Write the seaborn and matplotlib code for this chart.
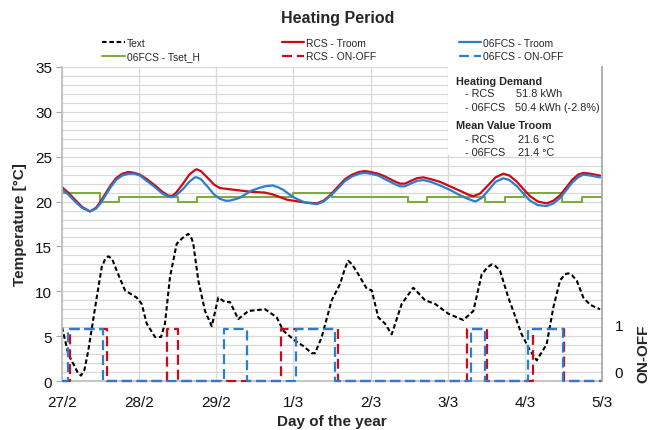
import numpy as np
import pandas as pd
import matplotlib
matplotlib.use("Agg")
import matplotlib.pyplot as plt
from matplotlib.ticker import MultipleLocator
from matplotlib.transforms import ScaledTranslation
from matplotlib.patches import Rectangle
import seaborn as sns

# ---------------- data ----------------
day_ticks = [0, 1, 2, 3, 4, 5, 6, 7]
day_labels = ["27/2", "28/2", "29/2", "1/3", "2/3", "3/3", "4/3", "5/3"]

text_t = [0.0, 0.082, 0.20, 0.246, 0.29, 0.341, 0.45, 0.515, 0.56, 0.60, 0.65, 0.709, 0.817,
          0.968, 1.033, 1.098, 1.206, 1.283, 1.335, 1.40, 1.487, 1.57, 1.637, 1.68, 1.702,
          1.767, 1.854, 1.941, 2.026, 2.113, 2.178, 2.285, 2.415, 2.632, 2.783, 2.869, 3.02,
          3.128, 3.237, 3.28, 3.367, 3.496, 3.604, 3.67, 3.711, 3.76, 3.841, 3.95, 4.015,
          4.10, 4.187, 4.274, 4.404, 4.554, 4.706, 4.835, 5.008, 5.202, 5.332, 5.441, 5.52,
          5.571, 5.62, 5.678, 5.786, 5.959, 6.067, 6.154, 6.283, 6.369, 6.456, 6.52, 6.563,
          6.61, 6.672, 6.758, 6.845, 6.974]
text_v = [6.0, 3.0, 1.0, 0.6, 1.2, 3.4, 9.3, 12.7, 13.6, 13.9, 13.6, 12.3, 10.1,
          9.3, 8.6, 6.4, 4.9, 4.9, 6.4, 11.6, 15.3, 16.0, 16.4, 15.9, 15.3,
          11.2, 7.8, 6.1, 9.3, 8.8, 8.8, 6.9, 7.8, 8.0, 7.1, 5.6, 4.5,
          3.9, 3.1, 3.1, 4.9, 9.0, 10.8, 12.6, 13.4, 13.0, 11.9, 10.3, 10.1,
          7.1, 6.4, 5.2, 8.6, 10.4, 9.0, 8.6, 7.5, 6.8, 7.8, 11.9, 12.7,
          13.0, 12.8, 12.3, 9.3, 5.2, 3.4, 2.3, 4.1, 8.2, 11.2, 11.9, 12.0,
          11.8, 11.2, 9.3, 8.5, 8.0]

rcs_t = [0.0, 0.08, 0.17, 0.26, 0.363, 0.44, 0.50, 0.557, 0.63, 0.70, 0.78, 0.86, 0.94,
         1.01, 1.10, 1.206, 1.30, 1.37, 1.422, 1.48, 1.569, 1.65, 1.72, 1.746, 1.80, 1.893,
         1.97, 2.048, 2.15, 2.243, 2.437, 2.632, 2.73, 2.826, 2.92, 2.995, 3.15, 3.302, 3.39,
         3.474, 3.57, 3.668, 3.76, 3.85, 3.928, 4.00, 4.10, 4.187, 4.30, 4.38, 4.446, 4.52,
         4.60, 4.684, 4.78, 4.90, 5.03, 5.16, 5.26, 5.332, 5.42, 5.522, 5.62, 5.721, 5.80,
         5.898, 5.98, 6.067, 6.17, 6.283, 6.37, 6.456, 6.54, 6.611, 6.69, 6.758, 6.85, 6.974]
rcs_troom = [21.6, 21.0, 20.2, 19.4, 18.9, 19.3, 20.0, 20.8, 21.8, 22.6, 23.1, 23.3, 23.2,
             23.0, 22.5, 21.8, 21.1, 20.7, 20.6, 21.0, 22.0, 23.0, 23.5, 23.6, 23.4, 22.6,
             21.9, 21.5, 21.4, 21.3, 21.1, 21.0, 20.8, 20.5, 20.2, 20.1, 19.9, 19.8, 20.1,
             20.7, 21.6, 22.5, 23.0, 23.3, 23.4, 23.3, 23.1, 22.8, 22.3, 22.0, 22.0, 22.3,
             22.6, 22.7, 22.5, 22.2, 21.7, 21.2, 20.8, 20.6, 20.9, 21.8, 22.7, 23.1, 22.9,
             22.2, 21.4, 20.6, 20.0, 19.8, 20.1, 20.7, 21.6, 22.4, 23.0, 23.2, 23.1, 22.9]

fcs_t = [0.0, 0.08, 0.17, 0.26, 0.363, 0.44, 0.50, 0.557, 0.63, 0.70, 0.78, 0.86, 0.94,
         1.01, 1.10, 1.206, 1.30, 1.37, 1.422, 1.48, 1.569, 1.65, 1.72, 1.746, 1.80, 1.893,
         1.97, 2.048, 2.12, 2.175, 2.30, 2.45, 2.55, 2.632, 2.73, 2.80, 2.87, 2.995, 3.07,
         3.15, 3.302, 3.39, 3.474, 3.57, 3.668, 3.76, 3.85, 3.928, 4.00, 4.10, 4.187, 4.30,
         4.38, 4.446, 4.52, 4.60, 4.684, 4.78, 4.90, 5.03, 5.16, 5.26, 5.36, 5.44, 5.522,
         5.62, 5.721, 5.80, 5.898, 5.98, 6.067, 6.17, 6.283, 6.37, 6.456, 6.54, 6.611, 6.69,
         6.758, 6.85, 6.974]
fcs_troom = [21.4, 20.8, 20.0, 19.3, 18.9, 19.2, 19.8, 20.6, 21.6, 22.4, 22.9, 23.1, 23.1,
             22.9, 22.3, 21.6, 20.9, 20.6, 20.5, 20.7, 21.4, 22.2, 22.7, 22.7, 22.5, 21.6,
             20.8, 20.3, 20.1, 20.1, 20.4, 21.2, 21.5, 21.7, 21.8, 21.6, 21.3, 20.5, 20.2,
             19.9, 19.7, 20.0, 20.6, 21.4, 22.3, 22.8, 23.1, 23.2, 23.1, 22.9, 22.5, 22.0,
             21.7, 21.7, 22.0, 22.3, 22.4, 22.2, 21.8, 21.3, 20.7, 20.3, 20.0, 20.4, 21.2,
             22.2, 22.6, 22.4, 21.7, 20.9, 20.1, 19.6, 19.5, 19.8, 20.4, 21.3, 22.1, 22.7,
             23.0, 22.9, 22.7]

tset_t = [0.0, 0.49, 0.743, 1.50, 1.746, 3.0, 3.496, 4.49, 4.736, 5.48, 5.743, 5.99, 6.486, 6.745, 7.0]
tset_v = [21.0, 20.0, 20.5, 20.0, 20.5, 21.0, 20.5, 20.0, 20.5, 20.0, 20.5, 21.0, 20.0, 20.5, 20.5]

rcs_sw_t = [0.0, 0.104, 0.587, 1.365, 1.50, 2.835, 3.574, 5.246, 5.513, 6.102, 6.512, 7.0]
rcs_sw = [0, 1, 0, 1, 0, 1, 0, 1, 0, 1, 0, 0]
fcs_sw_t = [0.0, 0.082, 0.527, 2.104, 2.394, 3.033, 3.539, 5.30, 5.484, 6.045, 6.49, 7.0]
fcs_sw = [0, 1, 0, 1, 0, 1, 0, 1, 0, 1, 0, 0]

info_heads = ["Heating Demand", "Mean Value Troom"]
info_names = ["- RCS", "- 06FCS", "- RCS", "- 06FCS"]
info_vals = ["51.8 kWh", "50.4 kWh (-2.8%)", "21.6 °C", "21.4 °C"]

# ---------------- style ----------------
sns.set_theme(style="white")
plt.rcParams["font.family"] = ["Liberation Sans", "DejaVu Sans"]

RED = "#CC0A16"
BLUE = "#2A7DD1"
GREEN = "#80AA3C"
GRID = "#D9D9D9"

fig = plt.figure(figsize=(6.57, 4.31), dpi=100)
ax = fig.add_axes([62 / 657, 1 - 382 / 431, 540 / 657, 314 / 431])
ax2 = ax.twinx()

# ---------------- lines ----------------
sns.lineplot(x=text_t, y=text_v, ax=ax, color="black", lw=1.5, linestyle=(0, (2.2, 1.3)),
             sort=False, estimator=None, label="Text")
sns.lineplot(x=tset_t, y=tset_v, ax=ax, color=GREEN, lw=1.5, drawstyle="steps-post",
             sort=False, estimator=None, label="06FCS - Tset_H")
sns.lineplot(x=rcs_t, y=rcs_troom, ax=ax, color=RED, lw=1.6,
             sort=False, estimator=None, label="RCS - Troom")
sns.lineplot(x=fcs_t, y=fcs_troom, ax=ax, color=BLUE, lw=1.6,
             sort=False, estimator=None, label="06FCS - Troom")

sns.lineplot(x=rcs_sw_t, y=rcs_sw, ax=ax2, color=RED, lw=1.6, drawstyle="steps-post",
             linestyle=(0, (4.5, 2.2)), sort=False, estimator=None, label="RCS - ON-OFF",
             clip_on=False)
sns.lineplot(x=fcs_sw_t, y=fcs_sw, ax=ax2, color=BLUE, lw=1.6, drawstyle="steps-post",
             linestyle=(0, (4.5, 2.2)), sort=False, estimator=None, label="06FCS - ON-OFF",
             clip_on=False)

for ln in ax.get_lines() + ax2.get_lines():
    ln.set_solid_joinstyle("round")
    ln.set_dash_joinstyle("round")

# ---------------- axes ----------------
ax.set_xlim(0, 7)
ax.set_ylim(0, 35)
ax2.set_ylim(0, 6)
ax.set_xticks(day_ticks)
ax.set_xticklabels(day_labels)
ax.yaxis.set_major_locator(MultipleLocator(5))
ax.yaxis.set_minor_locator(MultipleLocator(1))
ax.set_axisbelow(True)
ax.grid(True, which="major", axis="both", color=GRID, lw=0.9)
ax.grid(True, which="minor", axis="y", color=GRID, lw=0.9)
ax.tick_params(axis="both", which="major", labelsize=11, length=4, width=0.8,
               color="#A6A6A6", pad=3, labelcolor="#111111")
ax.tick_params(axis="y", which="minor", length=0)
ax.tick_params(axis="x", pad=6)

ax.spines["top"].set_visible(False)
ax2.spines["top"].set_visible(False)
ax.spines["left"].set_color("#BFBFBF")
ax.spines["bottom"].set_color("#BFBFBF")
ax2.spines["left"].set_visible(False)
ax2.spines["bottom"].set_visible(False)
ax2.spines["right"].set_color("#A6A6A6")
ax.spines["right"].set_visible(False)

ax2.set_yticks([0, 1])
ax2.set_yticklabels(["0", "1"])
ax2.tick_params(axis="y", length=0, labelsize=11, pad=9, labelcolor="#111111")
ax2.grid(False)
offs = {0: 7, 1: 3}
for tick in ax2.yaxis.get_major_ticks():
    v = tick.get_loc()
    dy = offs.get(int(round(v)), 0)
    tick.label2.set_transform(tick.label2.get_transform() +
                              ScaledTranslation(0, dy / 72, fig.dpi_scale_trans))

ax.set_xlabel("Day of the year", fontsize=11, fontweight="bold", labelpad=4)
ax.set_ylabel("Temperature [°C]", fontsize=11, fontweight="bold", labelpad=6)
ax2.set_ylabel("ON-OFF", fontsize=11, fontweight="bold", rotation=90)
ax2.yaxis.set_label_coords((636 - 62) / 540, (382 - 354) / 314)

for a in (ax, ax2):
    lg = a.get_legend()
    if lg is not None:
        lg.remove()

# ---------------- info box ----------------
ax.add_patch(Rectangle((0.715, 0.72), 0.285, 0.28, transform=ax.transAxes,
                       facecolor="white", edgecolor="none", zorder=1))
fs = 7.8
ax.text(0.729, 0.956, info_heads[0], transform=ax.transAxes, fontsize=fs,
        fontweight="bold", va="center", ha="left", zorder=3)
ax.text(0.729, 0.816, info_heads[1], transform=ax.transAxes, fontsize=fs,
        fontweight="bold", va="center", ha="left", zorder=3)
name_y = [0.916, 0.874, 0.771, 0.730]
val_x = [0.841, 0.839, 0.844, 0.844]
for n, v, y, vx in zip(info_names, info_vals, name_y, val_x):
    ax.text(0.746, y, n, transform=ax.transAxes, fontsize=fs, va="center", ha="left", zorder=3)
    ax.text(vx, y, v, transform=ax.transAxes, fontsize=fs, va="center", ha="left", zorder=3)

# ---------------- legend & title ----------------
hmap = {h.get_label(): h for h in list(ax.get_lines()) + list(ax2.get_lines())}
order = ["Text", "06FCS - Tset_H", "RCS - Troom", "RCS - ON-OFF", "06FCS - Troom", "06FCS - ON-OFF"]
fig.legend([hmap[k] for k in order], order, ncol=3, loc="upper left",
           bbox_to_anchor=(102 / 657, 1 - 39 / 431), frameon=False, fontsize=7.4,
           handlelength=2.2, handletextpad=0.2, columnspacing=8.0, labelspacing=0.32,
           borderpad=0, borderaxespad=0)

fig.text(338 / 657, 1 - 19 / 431, "Heating Period", ha="center", va="center",
         fontsize=11.5, fontweight="bold")

fig.savefig("out.png", dpi=100)
